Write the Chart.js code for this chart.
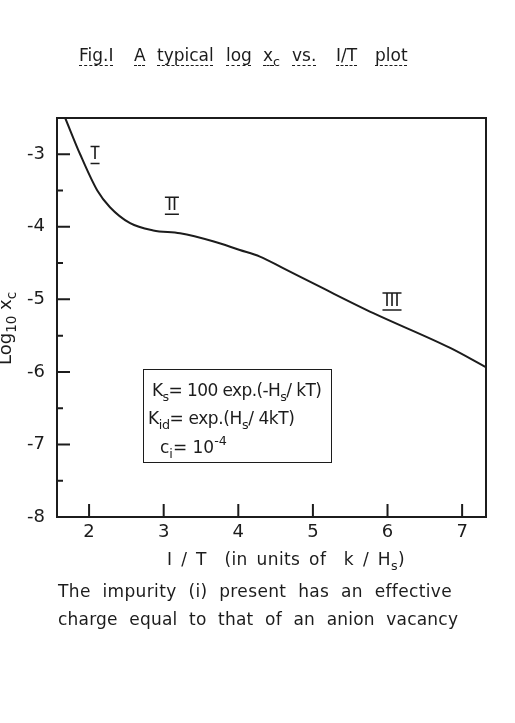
<!DOCTYPE html>
<html>
<head>
<meta charset="utf-8">
<script src="https://cdn.jsdelivr.net/npm/chart.js@4.4.0/dist/chart.umd.min.js"></script>
<style>
  body { margin: 0; background: #fff; }
  #wrap { position: relative; width: 515px; height: 723px; overflow: hidden;
          font-family: "DejaVu Sans", sans-serif; color: #1c1c1c; }
  #wrap canvas { position: absolute; left: 0; top: 0; }
  .t { position: absolute; white-space: nowrap; line-height: 20px; }
  .sub { font-size: 0.75em; position: relative; top: 0.4em; }
  .sup { font-size: 0.75em; position: relative; top: -0.6em; }
  .u { text-decoration: underline dashed 1px; text-underline-offset: 4px; }
  .ttl { position: absolute; top: 45px; font-size: 17px; line-height: 20px; white-space: nowrap; }
  #box { position: absolute; left: 143px; top: 369px; width: 187px; height: 92px;
         border: 1.5px solid #1c1c1c; }
</style>
</head>
<body>
<div id="wrap">
  <canvas id="chart" width="515" height="723"></canvas>

  <span class="ttl u" style="left:79px">Fig.I</span>
  <span class="ttl u" style="left:134px">A</span>
  <span class="ttl u" style="left:157px">typical</span>
  <span class="ttl u" style="left:226px">log</span>
  <span class="ttl u" style="left:263px">x<span class="sub">c</span></span>
  <span class="ttl u" style="left:292px">vs.</span>
  <span class="ttl u" style="left:336px">I/T</span>
  <span class="ttl u" style="left:375px">plot</span>

  <div class="t" style="left:-5px;top:365px;font-size:18px;transform-origin:0 0;transform:rotate(-90deg);">
    Log<span class="sub">10</span> x<span class="sub">c</span>
  </div>

  <div id="box"></div>
  <div class="t" style="left:152px;top:380px;font-size:17px;letter-spacing:-0.6px;">K<span class="sub">s</span>= 100 exp.(-H<span class="sub">s</span>/ kT)</div>
  <div class="t" style="left:148px;top:408px;font-size:17px;letter-spacing:-0.4px;">K<span class="sub">id</span>= exp.(H<span class="sub">s</span>/ 4kT)</div>
  <div class="t" style="left:160px;top:437px;font-size:17px;">c<span class="sub">i</span>= 10<span class="sup">-4</span></div>

  <div class="t fit" data-w="238" style="left:167px;top:549px;font-size:17px;word-spacing:3px;">I / T &nbsp;(in units of &nbsp;k / H<span class="sub">s</span>)</div>
  <div class="t fit" data-w="394" style="left:58px;top:581px;font-size:17px;word-spacing:6px;">The impurity (i) present has an effective</div>
  <div class="t fit" data-w="400" style="left:58px;top:609px;font-size:17px;word-spacing:6px;">charge equal to that of an anion vacancy</div>
</div>

<script>
const curveX = [1.68, 1.88, 2.11, 2.28, 2.55, 2.86, 3.22, 3.66, 4.02, 4.29, 4.60, 5.14, 5.81, 6.84, 7.31];
const curveY = [-2.5, -3.0, -3.5, -3.73, -3.95, -4.05, -4.09, -4.2, -4.32, -4.41, -4.57, -4.85, -5.19, -5.67, -5.93];

const xTicks = [2, 3, 4, 5, 6, 7];
const yTicks = [-8, -7, -6, -5, -4, -3];
const yMinorTicks = [-7.5, -6.5, -5.5, -4.5, -3.5];

const romanText = ["I", "II", "III"];
const romanX = [2.08, 3.11, 6.06];
const romanY = [-3.01, -3.71, -5.03];

const ink = "#1c1c1c";
const fontFamily = "DejaVu Sans";

// stretch the lettered lines to the width they have in the scan
document.querySelectorAll(".fit").forEach(el => {
  const target = parseFloat(el.dataset.w);
  const w0 = el.getBoundingClientRect().width;
  const n = el.textContent.trim().length;
  el.style.letterSpacing = ((target - w0) / n).toFixed(2) + "px";
});

const framePlugin = {
  id: "frame",
  afterDatasetsDraw(chart) {
    const { ctx, chartArea: a, scales } = chart;
    ctx.save();
    ctx.strokeStyle = ink;
    ctx.lineWidth = 2;
    ctx.strokeRect(a.left, a.top, a.right - a.left, a.bottom - a.top);

    ctx.beginPath();
    yTicks.forEach(v => {
      const y = scales.y.getPixelForValue(v);
      ctx.moveTo(a.left, y);
      ctx.lineTo(a.left + 13, y);
    });
    yMinorTicks.forEach(v => {
      const y = scales.y.getPixelForValue(v);
      ctx.moveTo(a.left, y);
      ctx.lineTo(a.left + 6, y);
    });
    xTicks.forEach(v => {
      const x = scales.x.getPixelForValue(v);
      ctx.moveTo(x, a.bottom);
      ctx.lineTo(x, a.bottom - 13);
    });
    ctx.stroke();

    // roman numerals for the three regions
    ctx.fillStyle = ink;
    ctx.font = "17px " + fontFamily;
    ctx.textAlign = "center";
    ctx.textBaseline = "middle";
    ctx.lineWidth = 1.5;
    romanText.forEach((s, i) => {
      const x = scales.x.getPixelForValue(romanX[i]);
      const y = scales.y.getPixelForValue(romanY[i]);
      ctx.fillText(s, x, y);
      const w = ctx.measureText(s).width + 4;
      ctx.beginPath();
      ctx.moveTo(x - w / 2, y - 8.5);
      ctx.lineTo(x + w / 2, y - 8.5);
      ctx.moveTo(x - w / 2, y + 8.5);
      ctx.lineTo(x + w / 2, y + 8.5);
      ctx.stroke();
    });
    ctx.restore();
  }
};

new Chart(document.getElementById("chart").getContext("2d"), {
  type: "scatter",
  data: {
    datasets: [{
      data: curveX.map((x, i) => ({ x: x, y: curveY[i] })),
      showLine: true,
      borderColor: ink,
      borderWidth: 2,
      pointRadius: 0,
      cubicInterpolationMode: "monotone",
      fill: false
    }]
  },
  options: {
    responsive: false,
    animation: false,
    layout: { padding: { left: 0, top: 118, right: 29, bottom: 176 } },
    plugins: { legend: { display: false }, tooltip: { enabled: false } },
    scales: {
      x: {
        type: "linear",
        min: 1.57,
        max: 7.32,
        afterBuildTicks: s => { s.ticks = xTicks.map(v => ({ value: v })); },
        afterFit: s => { s.height = 30; },
        grid: { display: false, drawTicks: false },
        border: { display: false },
        ticks: { padding: 5, color: ink, font: { family: fontFamily, size: 18 } }
      },
      y: {
        type: "linear",
        min: -8,
        max: -2.5,
        afterBuildTicks: s => { s.ticks = yTicks.map(v => ({ value: v })); },
        afterFit: s => { s.width = 57; },
        grid: { display: false, drawTicks: false },
        border: { display: false },
        ticks: { padding: 12, color: ink, font: { family: fontFamily, size: 18 } }
      }
    }
  },
  plugins: [framePlugin]
});
</script>
</body>
</html>
